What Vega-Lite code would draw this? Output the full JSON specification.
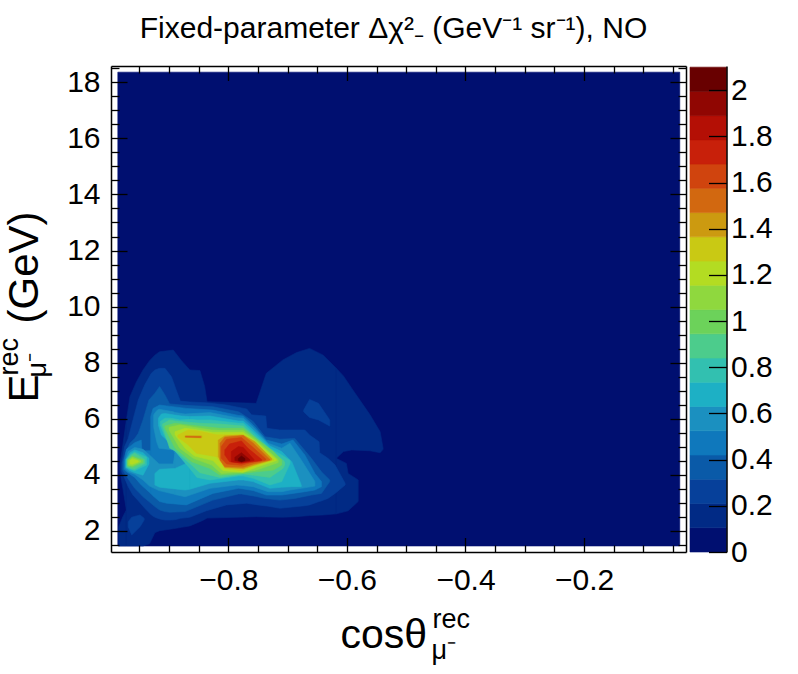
{"$schema":"https://vega.github.io/schema/vega-lite/v6.json","width":575,"height":486,"autosize":{"type":"none"},"padding":{"left":111,"top":66,"right":112,"bottom":122},"background":"white",
"title":{"text":"Fixed-parameter Δχ²₋ (GeV⁻¹ sr⁻¹), NO","font":"Liberation Sans","fontSize":30,"fontWeight":"normal","color":"black","anchor":"middle","dx":-5,"offset":21},
"datasets":{"anchor":[{"x":-0.5,"y":5}],
"bar":[{"z0":0,"z1":0.105,"z":0.0525,"a":0,"b":1},{"z0":0.105,"z1":0.21,"z":0.1575,"a":0,"b":1},{"z0":0.21,"z1":0.315,"z":0.2625,"a":0,"b":1},{"z0":0.315,"z1":0.42,"z":0.3675,"a":0,"b":1},{"z0":0.42,"z1":0.525,"z":0.4725,"a":0,"b":1},{"z0":0.525,"z1":0.63,"z":0.5775,"a":0,"b":1},{"z0":0.63,"z1":0.735,"z":0.6825,"a":0,"b":1},{"z0":0.735,"z1":0.84,"z":0.7875,"a":0,"b":1},{"z0":0.84,"z1":0.945,"z":0.8925,"a":0,"b":1},{"z0":0.945,"z1":1.05,"z":0.9975,"a":0,"b":1},{"z0":1.05,"z1":1.155,"z":1.1025,"a":0,"b":1},{"z0":1.155,"z1":1.26,"z":1.2075,"a":0,"b":1},{"z0":1.26,"z1":1.365,"z":1.3125,"a":0,"b":1},{"z0":1.365,"z1":1.47,"z":1.4175,"a":0,"b":1},{"z0":1.47,"z1":1.575,"z":1.5225,"a":0,"b":1},{"z0":1.575,"z1":1.68,"z":1.6275,"a":0,"b":1},{"z0":1.68,"z1":1.785,"z":1.7325,"a":0,"b":1},{"z0":1.785,"z1":1.89,"z":1.8375,"a":0,"b":1},{"z0":1.89,"z1":1.995,"z":1.9425,"a":0,"b":1},{"z0":1.995,"z1":2.1,"z":2.0475,"a":0,"b":1}],
"contours":[
{"b":"0","z":0.0525,"x":-0.9865,"t":18.36,"u":1.465},{"b":"0","z":0.0525,"x":-0.0385,"t":18.36,"u":1.465},
{"b":"1p","z":0.1575,"x":-0.983,"t":4.41,"u":4.17},{"b":"1p","z":0.1575,"x":-0.981,"t":4.65,"u":3.88},{"b":"1p","z":0.1575,"x":-0.978,"t":5.07,"u":3.52},{"b":"1p","z":0.1575,"x":-0.972,"t":5.96,"u":2.75},
{"b":"1q","z":0.1575,"x":-0.985,"t":2.15,"u":1.465},{"b":"1q","z":0.1575,"x":-0.978,"t":2.51,"u":1.465},{"b":"1q","z":0.1575,"x":-0.972,"t":2.75,"u":1.465},
{"b":"1a","z":0.1575,"x":-0.972,"t":5.96,"u":1.465},{"b":"1a","z":0.1575,"x":-0.966,"t":6.79,"u":1.465},{"b":"1a","z":0.1575,"x":-0.955,"t":7.32,"u":1.465},{"b":"1a","z":0.1575,"x":-0.944,"t":7.74,"u":1.465},{"b":"1a","z":0.1575,"x":-0.933,"t":8.07,"u":1.54},{"b":"1a","z":0.1575,"x":-0.924,"t":8.27,"u":1.94},{"b":"1a","z":0.1575,"x":-0.916,"t":8.39,"u":2.01},{"b":"1a","z":0.1575,"x":-0.893,"t":8.45,"u":2.08},{"b":"1a","z":0.1575,"x":-0.879,"t":8.07,"u":2.13},{"b":"1a","z":0.1575,"x":-0.865,"t":7.74,"u":2.18},{"b":"1a","z":0.1575,"x":-0.848,"t":7.72,"u":2.33},{"b":"1a","z":0.1575,"x":-0.84,"t":7.15,"u":2.41},{"b":"1a","z":0.1575,"x":-0.836,"t":6.61,"u":2.46},{"b":"1a","z":0.1575,"x":-0.753,"t":6.55,"u":2.51},{"b":"1a","z":0.1575,"x":-0.736,"t":7.62,"u":2.5},{"b":"1a","z":0.1575,"x":-0.708,"t":8.1,"u":2.49},{"b":"1a","z":0.1575,"x":-0.685,"t":8.36,"u":2.51},{"b":"1a","z":0.1575,"x":-0.663,"t":8.51,"u":2.55},{"b":"1a","z":0.1575,"x":-0.64,"t":8.27,"u":2.57},{"b":"1a","z":0.1575,"x":-0.618,"t":7.8,"u":2.61},
{"b":"1u","z":0.1575,"x":-0.618,"t":7.8,"u":4.59},{"b":"1u","z":0.1575,"x":-0.606,"t":7.53,"u":4.83},{"b":"1u","z":0.1575,"x":-0.592,"t":7.09,"u":4.89},{"b":"1u","z":0.1575,"x":-0.561,"t":6.14,"u":4.86},{"b":"1u","z":0.1575,"x":-0.544,"t":5.54,"u":4.79},{"b":"1u","z":0.1575,"x":-0.539,"t":4.95,"u":4.91},
{"b":"1v","z":0.1575,"x":-0.618,"t":4.59,"u":2.61},{"b":"1v","z":0.1575,"x":-0.601,"t":4.41,"u":2.7},{"b":"1v","z":0.1575,"x":-0.598,"t":4.05,"u":2.72},{"b":"1v","z":0.1575,"x":-0.581,"t":3.82,"u":3.05},
{"b":"2r","z":0.2625,"x":-0.673,"t":6.31,"u":6.25},{"b":"2r","z":0.2625,"x":-0.663,"t":6.69,"u":6.05},{"b":"2r","z":0.2625,"x":-0.648,"t":6.55,"u":5.96},{"b":"2r","z":0.2625,"x":-0.629,"t":5.96,"u":5.74},
{"b":"2s","z":0.2625,"x":-0.969,"t":2.33,"u":2.15},{"b":"2s","z":0.2625,"x":-0.963,"t":2.49,"u":1.86},{"b":"2s","z":0.2625,"x":-0.949,"t":2.57,"u":2.15},{"b":"2s","z":0.2625,"x":-0.942,"t":2.45,"u":2.39},
{"b":"2a","z":0.2625,"x":-0.98,"t":4.41,"u":4.11},{"b":"2a","z":0.2625,"x":-0.975,"t":5.01,"u":3.88},{"b":"2a","z":0.2625,"x":-0.969,"t":5.3,"u":3.58},{"b":"2a","z":0.2625,"x":-0.961,"t":5.96,"u":3.28},{"b":"2a","z":0.2625,"x":-0.952,"t":6.67,"u":3.08},{"b":"2a","z":0.2625,"x":-0.941,"t":7.21,"u":2.81},{"b":"2a","z":0.2625,"x":-0.93,"t":7.62,"u":2.57},{"b":"2a","z":0.2625,"x":-0.924,"t":7.74,"u":2.49},{"b":"2a","z":0.2625,"x":-0.916,"t":7.8,"u":2.43},{"b":"2a","z":0.2625,"x":-0.907,"t":7.8,"u":2.39},{"b":"2a","z":0.2625,"x":-0.896,"t":7.5,"u":2.39},{"b":"2a","z":0.2625,"x":-0.888,"t":7.03,"u":2.41},{"b":"2a","z":0.2625,"x":-0.881,"t":6.63,"u":2.45},{"b":"2a","z":0.2625,"x":-0.865,"t":6.6,"u":2.49},{"b":"2a","z":0.2625,"x":-0.837,"t":6.57,"u":2.72},{"b":"2a","z":0.2625,"x":-0.803,"t":6.49,"u":2.93},{"b":"2a","z":0.2625,"x":-0.769,"t":6.35,"u":2.99},{"b":"2a","z":0.2625,"x":-0.761,"t":6.14,"u":2.96},{"b":"2a","z":0.2625,"x":-0.737,"t":6.1,"u":2.89},{"b":"2a","z":0.2625,"x":-0.735,"t":5.66,"u":2.89},{"b":"2a","z":0.2625,"x":-0.713,"t":5.6,"u":2.81},{"b":"2a","z":0.2625,"x":-0.671,"t":5.6,"u":2.9},{"b":"2a","z":0.2625,"x":-0.663,"t":5.42,"u":2.93},{"b":"2a","z":0.2625,"x":-0.647,"t":5.18,"u":3.05},{"b":"2a","z":0.2625,"x":-0.646,"t":4.79,"u":3.05},{"b":"2a","z":0.2625,"x":-0.632,"t":4.59,"u":3.16},{"b":"2a","z":0.2625,"x":-0.62,"t":4.35,"u":3.34},{"b":"2a","z":0.2625,"x":-0.603,"t":3.7,"u":3.64},
{"b":"3a","z":0.3675,"x":-0.978,"t":4.47,"u":4.17},{"b":"3a","z":0.3675,"x":-0.973,"t":4.83,"u":3.99},{"b":"3a","z":0.3675,"x":-0.966,"t":5.13,"u":3.76},{"b":"3a","z":0.3675,"x":-0.958,"t":5.3,"u":3.52},{"b":"3a","z":0.3675,"x":-0.952,"t":5.48,"u":3.4},{"b":"3a","z":0.3675,"x":-0.944,"t":5.96,"u":3.22},{"b":"3a","z":0.3675,"x":-0.934,"t":6.67,"u":3.05},{"b":"3a","z":0.3675,"x":-0.924,"t":6.91,"u":2.87},{"b":"3a","z":0.3675,"x":-0.916,"t":7.15,"u":2.75},{"b":"3a","z":0.3675,"x":-0.907,"t":6.85,"u":2.69},{"b":"3a","z":0.3675,"x":-0.899,"t":6.53,"u":2.67},{"b":"3a","z":0.3675,"x":-0.873,"t":6.48,"u":2.69},{"b":"3a","z":0.3675,"x":-0.826,"t":6.43,"u":3.1},{"b":"3a","z":0.3675,"x":-0.783,"t":6.25,"u":3.32},{"b":"3a","z":0.3675,"x":-0.778,"t":6.19,"u":3.32},{"b":"3a","z":0.3675,"x":-0.758,"t":5.9,"u":3.25},{"b":"3a","z":0.3675,"x":-0.738,"t":5.36,"u":3.16},{"b":"3a","z":0.3675,"x":-0.713,"t":5.27,"u":3.1},{"b":"3a","z":0.3675,"x":-0.688,"t":5.3,"u":3.16},{"b":"3a","z":0.3675,"x":-0.66,"t":4.59,"u":3.28},{"b":"3a","z":0.3675,"x":-0.643,"t":4.11,"u":3.34},{"b":"3a","z":0.3675,"x":-0.629,"t":3.82,"u":3.76},
{"b":"4a","z":0.4725,"x":-0.976,"t":4.47,"u":4.2},{"b":"4a","z":0.4725,"x":-0.972,"t":4.91,"u":4.11},{"b":"4a","z":0.4725,"x":-0.958,"t":5.15,"u":3.91},{"b":"4a","z":0.4725,"x":-0.947,"t":5.24,"u":3.64},{"b":"4a","z":0.4725,"x":-0.946,"t":4.86,"u":3.62},{"b":"4a","z":0.4725,"x":-0.931,"t":4.86,"u":3.34},
{"b":"4m","z":0.4725,"x":-0.931,"t":6.08,"u":3.34},{"b":"4m","z":0.4725,"x":-0.927,"t":6.37,"u":3.25},{"b":"4m","z":0.4725,"x":-0.916,"t":6.49,"u":3.05},{"b":"4m","z":0.4725,"x":-0.904,"t":6.46,"u":2.99},{"b":"4m","z":0.4725,"x":-0.871,"t":6.37,"u":2.93},{"b":"4m","z":0.4725,"x":-0.826,"t":6.31,"u":3.34},{"b":"4m","z":0.4725,"x":-0.783,"t":6.12,"u":3.52},{"b":"4m","z":0.4725,"x":-0.775,"t":6.1,"u":3.5},{"b":"4m","z":0.4725,"x":-0.758,"t":5.78,"u":3.44},{"b":"4m","z":0.4725,"x":-0.736,"t":5.24,"u":3.28},{"b":"4m","z":0.4725,"x":-0.71,"t":5.1,"u":3.28},{"b":"4m","z":0.4725,"x":-0.691,"t":5.24,"u":3.34},{"b":"4m","z":0.4725,"x":-0.671,"t":4.71,"u":3.4},{"b":"4m","z":0.4725,"x":-0.654,"t":4.05,"u":3.46},{"b":"4m","z":0.4725,"x":-0.643,"t":3.76,"u":3.58},
{"b":"5l","z":0.5775,"x":-0.974,"t":4.51,"u":4.23},{"b":"5l","z":0.5775,"x":-0.969,"t":4.83,"u":4.11},{"b":"5l","z":0.5775,"x":-0.958,"t":4.98,"u":4.02},{"b":"5l","z":0.5775,"x":-0.944,"t":4.91,"u":3.82},{"b":"5l","z":0.5775,"x":-0.933,"t":4.71,"u":3.6},{"b":"5l","z":0.5775,"x":-0.917,"t":4.39,"u":3.44},{"b":"5l","z":0.5775,"x":-0.893,"t":4.39,"u":3.32},{"b":"5l","z":0.5775,"x":-0.89,"t":4.77,"u":3.3},
{"b":"5u","z":0.5775,"x":-0.926,"t":6.14,"u":5.7},{"b":"5u","z":0.5775,"x":-0.921,"t":6.29,"u":5.18},{"b":"5u","z":0.5775,"x":-0.917,"t":6.34,"u":4.95},{"b":"5u","z":0.5775,"x":-0.893,"t":6.25,"u":4.89},{"b":"5u","z":0.5775,"x":-0.89,"t":6.22,"u":4.77},
{"b":"5m","z":0.5775,"x":-0.89,"t":6.22,"u":3.3},{"b":"5m","z":0.5775,"x":-0.873,"t":6.17,"u":3.22},{"b":"5m","z":0.5775,"x":-0.831,"t":6.22,"u":3.52},{"b":"5m","z":0.5775,"x":-0.786,"t":6.04,"u":3.64},{"b":"5m","z":0.5775,"x":-0.775,"t":6.02,"u":3.62},{"b":"5m","z":0.5775,"x":-0.758,"t":5.7,"u":3.58},{"b":"5m","z":0.5775,"x":-0.733,"t":5.13,"u":3.4},{"b":"5m","z":0.5775,"x":-0.71,"t":4.95,"u":3.4},{"b":"5m","z":0.5775,"x":-0.696,"t":5.13,"u":3.46},{"b":"5m","z":0.5775,"x":-0.677,"t":4.53,"u":3.52},{"b":"5m","z":0.5775,"x":-0.654,"t":3.76,"u":3.6},
{"b":"6l","z":0.6825,"x":-0.973,"t":4.53,"u":4.26},{"b":"6l","z":0.6825,"x":-0.966,"t":4.79,"u":4.15},{"b":"6l","z":0.6825,"x":-0.958,"t":4.89,"u":4.08},{"b":"6l","z":0.6825,"x":-0.944,"t":4.79,"u":3.99},{"b":"6l","z":0.6825,"x":-0.934,"t":4.59,"u":4.39},
{"b":"6d","z":0.6825,"x":-0.924,"t":4.05,"u":3.64},{"b":"6d","z":0.6825,"x":-0.916,"t":4.2,"u":3.56},{"b":"6d","z":0.6825,"x":-0.89,"t":4.23,"u":3.5},{"b":"6d","z":0.6825,"x":-0.873,"t":4.39,"u":3.46},{"b":"6d","z":0.6825,"x":-0.865,"t":4.71,"u":3.49},
{"b":"6u","z":0.6825,"x":-0.918,"t":6.02,"u":5.78},{"b":"6u","z":0.6825,"x":-0.913,"t":6.17,"u":5.42},{"b":"6u","z":0.6825,"x":-0.907,"t":6.19,"u":5.3},{"b":"6u","z":0.6825,"x":-0.893,"t":6.14,"u":5.01},{"b":"6u","z":0.6825,"x":-0.879,"t":6.1,"u":4.71},{"b":"6u","z":0.6825,"x":-0.865,"t":6.08,"u":4.71},
{"b":"6m","z":0.6825,"x":-0.865,"t":6.08,"u":3.49},{"b":"6m","z":0.6825,"x":-0.831,"t":6.1,"u":3.7},{"b":"6m","z":0.6825,"x":-0.783,"t":5.92,"u":3.82},{"b":"6m","z":0.6825,"x":-0.775,"t":5.92,"u":3.82},{"b":"6m","z":0.6825,"x":-0.758,"t":5.6,"u":3.76},{"b":"6m","z":0.6825,"x":-0.73,"t":5.03,"u":3.52},{"b":"6m","z":0.6825,"x":-0.71,"t":4.83,"u":3.56},{"b":"6m","z":0.6825,"x":-0.693,"t":4.47,"u":3.58},{"b":"6m","z":0.6825,"x":-0.677,"t":3.64,"u":3.58},
{"b":"7l","z":0.7875,"x":-0.972,"t":4.55,"u":4.27},{"b":"7l","z":0.7875,"x":-0.965,"t":4.74,"u":4.2},{"b":"7l","z":0.7875,"x":-0.958,"t":4.82,"u":4.15},{"b":"7l","z":0.7875,"x":-0.938,"t":4.63,"u":4.35},
{"b":"7m","z":0.7875,"x":-0.915,"t":5.9,"u":5.78},{"b":"7m","z":0.7875,"x":-0.907,"t":6.02,"u":5.36},{"b":"7m","z":0.7875,"x":-0.896,"t":6.02,"u":5.01},{"b":"7m","z":0.7875,"x":-0.882,"t":5.96,"u":4.65},{"b":"7m","z":0.7875,"x":-0.865,"t":5.98,"u":4.23},{"b":"7m","z":0.7875,"x":-0.853,"t":5.96,"u":3.91},{"b":"7m","z":0.7875,"x":-0.831,"t":5.96,"u":3.82},{"b":"7m","z":0.7875,"x":-0.783,"t":5.84,"u":3.96},{"b":"7m","z":0.7875,"x":-0.775,"t":5.84,"u":3.96},{"b":"7m","z":0.7875,"x":-0.758,"t":5.51,"u":3.88},{"b":"7m","z":0.7875,"x":-0.73,"t":4.95,"u":3.64},{"b":"7m","z":0.7875,"x":-0.71,"t":4.71,"u":3.76},{"b":"7m","z":0.7875,"x":-0.696,"t":4.51,"u":4.41},
{"b":"8l","z":0.8925,"x":-0.971,"t":4.55,"u":4.29},{"b":"8l","z":0.8925,"x":-0.964,"t":4.7,"u":4.22},{"b":"8l","z":0.8925,"x":-0.958,"t":4.77,"u":4.2},{"b":"8l","z":0.8925,"x":-0.941,"t":4.55,"u":4.41},
{"b":"8m","z":0.8925,"x":-0.911,"t":5.81,"u":5.74},{"b":"8m","z":0.8925,"x":-0.899,"t":5.96,"u":4.95},{"b":"8m","z":0.8925,"x":-0.89,"t":5.92,"u":4.86},{"b":"8m","z":0.8925,"x":-0.865,"t":5.87,"u":4.41},{"b":"8m","z":0.8925,"x":-0.848,"t":5.84,"u":4.08},{"b":"8m","z":0.8925,"x":-0.814,"t":5.81,"u":3.91},{"b":"8m","z":0.8925,"x":-0.775,"t":5.74,"u":4.03},{"b":"8m","z":0.8925,"x":-0.758,"t":5.42,"u":3.99},{"b":"8m","z":0.8925,"x":-0.73,"t":4.89,"u":3.91},{"b":"8m","z":0.8925,"x":-0.708,"t":4.53,"u":4.23},{"b":"8m","z":0.8925,"x":-0.705,"t":4.46,"u":4.34},
{"b":"9l","z":0.9975,"x":-0.97,"t":4.53,"u":4.32},{"b":"9l","z":0.9975,"x":-0.962,"t":4.67,"u":4.27},{"b":"9l","z":0.9975,"x":-0.944,"t":4.53,"u":4.44},
{"b":"9m","z":0.9975,"x":-0.907,"t":5.74,"u":5.66},{"b":"9m","z":0.9975,"x":-0.89,"t":5.84,"u":4.95},{"b":"9m","z":0.9975,"x":-0.862,"t":5.77,"u":4.47},{"b":"9m","z":0.9975,"x":-0.831,"t":5.7,"u":4.23},{"b":"9m","z":0.9975,"x":-0.814,"t":5.66,"u":3.99},{"b":"9m","z":0.9975,"x":-0.775,"t":5.66,"u":4.05},{"b":"9m","z":0.9975,"x":-0.753,"t":5.3,"u":4.11},{"b":"9m","z":0.9975,"x":-0.724,"t":4.83,"u":4.17},{"b":"9m","z":0.9975,"x":-0.71,"t":4.53,"u":4.35},
{"b":"10l","z":1.1025,"x":-0.969,"t":4.51,"u":4.35},{"b":"10l","z":1.1025,"x":-0.962,"t":4.63,"u":4.32},{"b":"10l","z":1.1025,"x":-0.948,"t":4.51,"u":4.46},
{"b":"10m","z":1.1025,"x":-0.9,"t":5.7,"u":5.6},{"b":"10m","z":1.1025,"x":-0.882,"t":5.78,"u":4.95},{"b":"10m","z":1.1025,"x":-0.859,"t":5.7,"u":4.59},{"b":"10m","z":1.1025,"x":-0.828,"t":5.6,"u":4.35},{"b":"10m","z":1.1025,"x":-0.812,"t":5.58,"u":4.05},{"b":"10m","z":1.1025,"x":-0.775,"t":5.58,"u":4.1},{"b":"10m","z":1.1025,"x":-0.753,"t":5.24,"u":4.17},{"b":"10m","z":1.1025,"x":-0.716,"t":4.55,"u":4.44},
{"b":"11l","z":1.2075,"x":-0.966,"t":4.51,"u":4.39},{"b":"11l","z":1.2075,"x":-0.962,"t":4.57,"u":4.38},{"b":"11l","z":1.2075,"x":-0.952,"t":4.5,"u":4.46},
{"b":"11m","z":1.2075,"x":-0.89,"t":5.54,"u":5.42},{"b":"11m","z":1.2075,"x":-0.873,"t":5.66,"u":4.95},{"b":"11m","z":1.2075,"x":-0.857,"t":5.62,"u":4.67},{"b":"11m","z":1.2075,"x":-0.826,"t":5.51,"u":4.51},{"b":"11m","z":1.2075,"x":-0.809,"t":5.51,"u":4.15},{"b":"11m","z":1.2075,"x":-0.775,"t":5.51,"u":4.09},{"b":"11m","z":1.2075,"x":-0.753,"t":5.18,"u":4.27},{"b":"11m","z":1.2075,"x":-0.719,"t":4.55,"u":4.51},
{"b":"12m","z":1.3125,"x":-0.885,"t":5.42,"u":5.34},{"b":"12m","z":1.3125,"x":-0.868,"t":5.6,"u":5.07},{"b":"12m","z":1.3125,"x":-0.854,"t":5.58,"u":4.77},{"b":"12m","z":1.3125,"x":-0.82,"t":5.43,"u":4.65},{"b":"12m","z":1.3125,"x":-0.806,"t":5.43,"u":4.23},{"b":"12m","z":1.3125,"x":-0.778,"t":5.43,"u":4.15},{"b":"12m","z":1.3125,"x":-0.758,"t":5.18,"u":4.32},{"b":"12m","z":1.3125,"x":-0.724,"t":4.55,"u":4.53},
{"b":"13s","z":1.4175,"x":-0.873,"t":5.39,"u":5.34},{"b":"13s","z":1.4175,"x":-0.845,"t":5.39,"u":5.32},
{"b":"13m","z":1.4175,"x":-0.817,"t":5.24,"u":4.65},{"b":"13m","z":1.4175,"x":-0.806,"t":5.39,"u":4.26},{"b":"13m","z":1.4175,"x":-0.775,"t":5.42,"u":4.22},{"b":"13m","z":1.4175,"x":-0.755,"t":5.18,"u":4.36},{"b":"13m","z":1.4175,"x":-0.727,"t":4.58,"u":4.53},
{"b":"14s","z":1.5225,"x":-0.872,"t":5.38,"u":5.35},{"b":"14s","z":1.5225,"x":-0.847,"t":5.37,"u":5.33},
{"b":"14m","z":1.5225,"x":-0.814,"t":5.13,"u":4.53},{"b":"14m","z":1.5225,"x":-0.806,"t":5.34,"u":4.29},{"b":"14m","z":1.5225,"x":-0.775,"t":5.4,"u":4.27},{"b":"14m","z":1.5225,"x":-0.758,"t":5.13,"u":4.39},{"b":"14m","z":1.5225,"x":-0.73,"t":4.55,"u":4.53},
{"b":"15m","z":1.6275,"x":-0.812,"t":5.01,"u":4.59},{"b":"15m","z":1.6275,"x":-0.803,"t":5.27,"u":4.39},{"b":"15m","z":1.6275,"x":-0.778,"t":5.33,"u":4.34},{"b":"15m","z":1.6275,"x":-0.761,"t":5.03,"u":4.44},{"b":"15m","z":1.6275,"x":-0.737,"t":4.57,"u":4.53},
{"b":"16m","z":1.7325,"x":-0.806,"t":4.89,"u":4.71},{"b":"16m","z":1.7325,"x":-0.798,"t":5.1,"u":4.47},{"b":"16m","z":1.7325,"x":-0.778,"t":5.21,"u":4.41},{"b":"16m","z":1.7325,"x":-0.767,"t":4.95,"u":4.45},{"b":"16m","z":1.7325,"x":-0.744,"t":4.55,"u":4.51},
{"b":"17m","z":1.8375,"x":-0.795,"t":4.83,"u":4.47},{"b":"17m","z":1.8375,"x":-0.783,"t":5.01,"u":4.44},{"b":"17m","z":1.8375,"x":-0.775,"t":4.98,"u":4.44},{"b":"17m","z":1.8375,"x":-0.757,"t":4.55,"u":4.51},
{"b":"18m","z":1.9425,"x":-0.789,"t":4.63,"u":4.51},{"b":"18m","z":1.9425,"x":-0.778,"t":4.79,"u":4.46},{"b":"18m","z":1.9425,"x":-0.764,"t":4.55,"u":4.51},
{"b":"19m","z":2.0475,"x":-0.783,"t":4.58,"u":4.51},{"b":"19m","z":2.0475,"x":-0.778,"t":4.67,"u":4.47},{"b":"19m","z":2.0475,"x":-0.772,"t":4.58,"u":4.51}
]},
"resolve":{"scale":{"x":"independent","y":"independent"}},
"layer":[
{"data":{"name":"contours"},"mark":{"type":"area","orient":"vertical","interpolate":"linear","line":false,"strokeWidth":0.6},
"encoding":{"x":{"field":"x","type":"quantitative","axis":null,"scale":{"domain":[-0.998,-0.028]}},"y":{"field":"t","type":"quantitative","axis":null,"scale":{"domain":[1.25,18.58]}},"y2":{"field":"u"},"detail":{"field":"b"},
"color":{"field":"z","type":"quantitative","legend":null,"scale":{"type":"threshold","domain":[0.105,0.21,0.315,0.42,0.525,0.63,0.735,0.84,0.945,1.05,1.155,1.26,1.365,1.47,1.575,1.68,1.785,1.89,1.995],"range":["#000f70","#012a85","#06409a","#0a5aa8","#0f78bc","#1b90c0","#1db0c5","#32c0b0","#4ccc8c","#6cd25a","#8fd83e","#b3dc22","#c9c914","#cc9a10","#d26810","#d0440e","#c8200a","#b40f05","#900602","#680000"]}},
"stroke":{"field":"z","type":"quantitative","legend":null,"scale":{"type":"threshold","domain":[0.105,0.21,0.315,0.42,0.525,0.63,0.735,0.84,0.945,1.05,1.155,1.26,1.365,1.47,1.575,1.68,1.785,1.89,1.995],"range":["#000f70","#012a85","#06409a","#0a5aa8","#0f78bc","#1b90c0","#1db0c5","#32c0b0","#4ccc8c","#6cd25a","#8fd83e","#b3dc22","#c9c914","#cc9a10","#d26810","#d0440e","#c8200a","#b40f05","#900602","#680000"]}}}},
{"data":{"name":"bar"},"mark":{"type":"rect","strokeWidth":0.6},
"encoding":{"x":{"field":"a","type":"quantitative","axis":null,"scale":{"domain":[0,1],"range":[579,615.7]}},"x2":{"field":"b"},"y":{"field":"z0","type":"quantitative","scale":{"domain":[0,2.105]},"axis":{"orient":"right","offset":40.5,"values":[0,0.2,0.4,0.6,0.8,1,1.2,1.4,1.6,1.8,2],"format":"~g","tickSize":-18,"tickWidth":1.3,"tickColor":"black","domainColor":"black","domainWidth":1.5,"labelFont":"Liberation Sans","labelFontSize":30,"labelColor":"black","labelPadding":22,"labelOverlap":false,"grid":false,"title":null,"zindex":1}},"y2":{"field":"z1"},
"color":{"field":"z","type":"quantitative","legend":null,"scale":{"type":"threshold","domain":[0.105,0.21,0.315,0.42,0.525,0.63,0.735,0.84,0.945,1.05,1.155,1.26,1.365,1.47,1.575,1.68,1.785,1.89,1.995],"range":["#000f70","#012a85","#06409a","#0a5aa8","#0f78bc","#1b90c0","#1db0c5","#32c0b0","#4ccc8c","#6cd25a","#8fd83e","#b3dc22","#c9c914","#cc9a10","#d26810","#d0440e","#c8200a","#b40f05","#900602","#680000"]}},
"stroke":{"field":"z","type":"quantitative","legend":null,"scale":{"type":"threshold","domain":[0.105,0.21,0.315,0.42,0.525,0.63,0.735,0.84,0.945,1.05,1.155,1.26,1.365,1.47,1.575,1.68,1.785,1.89,1.995],"range":["#000f70","#012a85","#06409a","#0a5aa8","#0f78bc","#1b90c0","#1db0c5","#32c0b0","#4ccc8c","#6cd25a","#8fd83e","#b3dc22","#c9c914","#cc9a10","#d26810","#d0440e","#c8200a","#b40f05","#900602","#680000"]}}}},
{"data":{"name":"anchor"},"mark":{"type":"point","opacity":0},
"encoding":{"x":{"field":"x","type":"quantitative","scale":{"domain":[-0.998,-0.028]},"axis":{"orient":"bottom","values":[-0.8,-0.6,-0.4,-0.2],"labelExpr":"replace(format(datum.value,'.1f'),'-','–')","tickSize":-14.5,"tickWidth":1.3,"tickColor":"black","domainColor":"black","domainWidth":1.5,"labelFont":"Liberation Sans","labelFontSize":30,"labelColor":"black","labelPadding":28,"grid":false,"title":"cosθ","titleFont":"Liberation Sans","titleFontSize":41,"titleFontWeight":"normal","titleColor":"black","titleAlign":"left","titleBaseline":"alphabetic","titleAnchor":null,"titleX":229,"titleY":95,"zindex":1}},
"y":{"field":"y","type":"quantitative","scale":{"domain":[1.25,18.58]},"axis":{"orient":"left","values":[2,4,6,8,10,12,14,16,18],"tickSize":-16,"tickWidth":1.3,"tickColor":"black","domainColor":"black","domainWidth":1.5,"labelFont":"Liberation Sans","labelFontSize":30,"labelColor":"black","labelPadding":27,"grid":false,"title":"E","titleFont":"Liberation Sans","titleFontSize":42,"titleFontWeight":"normal","titleColor":"black","titleAlign":"left","titleBaseline":"alphabetic","titleAngle":270,"titleX":-74,"titleY":336,"zindex":1}}}},
{"data":{"name":"anchor"},"mark":{"type":"point","opacity":0},
"encoding":{"x":{"field":"x","type":"quantitative","scale":{"domain":[-0.998,-0.028]},"axis":{"orient":"bottom","values":[-0.95,-0.9,-0.85,-0.75,-0.7,-0.65,-0.55,-0.5,-0.45,-0.35,-0.3,-0.25,-0.15,-0.1,-0.05],"labels":false,"domain":false,"tickSize":-7,"tickWidth":1.3,"tickColor":"black","grid":false,"title":"rec","titleFont":"Liberation Sans","titleFontSize":27,"titleFontWeight":"normal","titleColor":"black","titleAlign":"left","titleBaseline":"alphabetic","titleX":321,"titleY":75,"zindex":1}},
"y":{"field":"y","type":"quantitative","scale":{"domain":[1.25,18.58]},"axis":{"orient":"left","values":[1.5,2.5,3,3.5,4.5,5,5.5,6.5,7,7.5,8.5,9,9.5,10.5,11,11.5,12.5,13,13.5,14.5,15,15.5,16.5,17,17.5,18.5],"labels":false,"domain":false,"tickSize":-8,"tickWidth":1.3,"tickColor":"black","grid":false,"title":"rec","titleFont":"Liberation Sans","titleFontSize":27,"titleFontWeight":"normal","titleColor":"black","titleAlign":"left","titleBaseline":"alphabetic","titleAngle":270,"titleX":-94,"titleY":309,"zindex":1}}}},
{"data":{"name":"anchor"},"mark":{"type":"point","opacity":0},
"encoding":{"x":{"field":"x","type":"quantitative","scale":{"domain":[-0.998,-0.028]},"axis":{"orient":"top","values":[-0.8,-0.6,-0.4,-0.2],"labels":false,"tickSize":-14.5,"tickWidth":1.3,"tickColor":"black","domainColor":"black","domainWidth":1.5,"grid":false,"title":"μ⁻","titleFont":"Liberation Sans","titleFontSize":27,"titleFontWeight":"normal","titleColor":"black","titleAlign":"left","titleBaseline":"alphabetic","titleX":320,"titleY":592,"zindex":1}},
"y":{"field":"y","type":"quantitative","scale":{"domain":[1.25,18.58]},"axis":{"orient":"right","values":[2,4,6,8,10,12,14,16,18],"labels":false,"tickSize":-16,"tickWidth":1.3,"tickColor":"black","domainColor":"black","domainWidth":1.5,"grid":false,"title":"μ⁻","titleFont":"Liberation Sans","titleFontSize":27,"titleFontWeight":"normal","titleColor":"black","titleAlign":"left","titleBaseline":"alphabetic","titleAngle":270,"titleX":-641,"titleY":311,"zindex":1}}}},
{"data":{"name":"anchor"},"mark":{"type":"point","opacity":0},
"encoding":{"x":{"field":"x","type":"quantitative","scale":{"domain":[-0.998,-0.028]},"axis":{"orient":"top","values":[-0.95,-0.9,-0.85,-0.75,-0.7,-0.65,-0.55,-0.5,-0.45,-0.35,-0.3,-0.25,-0.15,-0.1,-0.05],"labels":false,"domain":false,"tickSize":-7,"tickWidth":1.3,"tickColor":"black","grid":false,"title":null,"zindex":1}},
"y":{"field":"y","type":"quantitative","scale":{"domain":[1.25,18.58]},"axis":{"orient":"right","values":[1.5,2.5,3,3.5,4.5,5,5.5,6.5,7,7.5,8.5,9,9.5,10.5,11,11.5,12.5,13,13.5,14.5,15,15.5,16.5,17,17.5,18.5],"labels":false,"domain":false,"tickSize":-8,"tickWidth":1.3,"tickColor":"black","grid":false,"title":"(GeV)","titleFont":"Liberation Sans","titleFontSize":42,"titleFontWeight":"normal","titleColor":"black","titleAlign":"left","titleBaseline":"alphabetic","titleAngle":270,"titleX":-649,"titleY":257,"zindex":1}}}}
]}
